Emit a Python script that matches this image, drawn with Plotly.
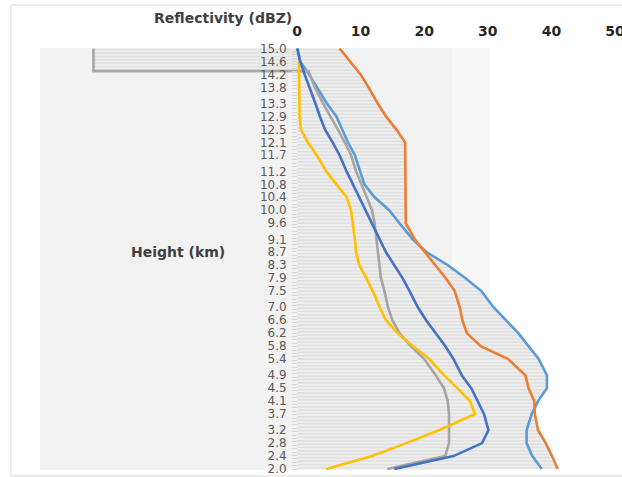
import numpy as np
import plotly.graph_objects as go

# Height categories (km), top to bottom
heights = [15.0, 14.6, 14.2, 13.8, 13.3, 12.9, 12.5, 12.1, 11.7, 11.2, 10.8, 10.4,
           10.0, 9.6, 9.1, 8.7, 8.3, 7.9, 7.5, 7.0, 6.6, 6.2, 5.8, 5.4, 4.9, 4.5,
           4.1, 3.7, 3.2, 2.8, 2.4, 2.0]

# Reflectivity (dBZ) per series
light_blue = [0.1, 0.5, 1.9, 3.1, 4.7, 6.2, 7.1, 8.0, 9.1, 10.0, 10.6, 12.2, 14.5, 16.1,
              18.2, 20.4, 23.75, 26.5, 29.0, 30.9, 32.9, 34.8, 36.4, 38.0, 39.3, 39.3,
              37.9, 36.9, 36.1, 36.1, 37.0, 38.5]
orange = [6.7, 8.4, 10.0, 11.25, 12.7, 14.0, 15.6, 17.0, 17.0, 17.0, 17.0, 17.0, 17.0,
          17.1, 18.5, 20.1, 21.8, 23.4, 24.8, 25.6, 26.0, 26.7, 28.9, 33.2, 35.9, 36.4,
          37.3, 37.4, 37.9, 39.1, 40.1, 41.0]
yellow = [None, 0.3, 0.3, 0.3, 0.3, 0.4, 0.6, 1.7, 3.1, 4.6, 6.2, 7.8, 8.5, 8.8, 9.1, 9.3,
          9.8, 10.9, 11.9, 13.0, 14.0, 15.8, 18.2, 20.8, 23.1, 25.2, 27.2, 28.0, 22.3,
          17.2, 11.8, 4.6]
dark_blue = [0.0, 0.5, 1.2, 2.0, 2.9, 3.6, 4.4, 5.6, 6.7, 7.8, 8.8, 9.8, 10.8, 11.7, 13.0,
             14.0, 15.3, 16.6, 17.7, 19.0, 20.3, 21.8, 23.3, 24.6, 25.9, 27.4, 28.4, 29.4,
             30.1, 29.1, 24.6, 15.3]
gray_h = [15.0, 14.3, 14.3] + heights[2:]
gray_v = [-32, -32, 1.8, 2.0, 2.8, 4.1, 5.3, 6.4, 7.5, 8.5, 9.3, 10.1, 10.9, 11.8, 12.2,
          12.5, 12.7, 12.9, 13.2, 13.75, 14.3, 15.0, 16.1, 17.9, 20.0, 21.8, 23.1, 23.7,
          23.9, 23.9, 23.9, 23.3, 14.2]

x_ticks = [0, 10, 20, 30, 40, 50]

# Drop-line envelope (from min(0, series) to max of series)
h_arr = np.array(heights)
gray_on_h = np.interp(h_arr[::-1], np.array(gray_h)[::-1], np.array(gray_v)[::-1])[::-1]
stack = np.vstack([light_blue, orange, dark_blue,
                   [np.nan if v is None else v for v in yellow], gray_on_h])
right = np.nanmax(stack, axis=0)
left_x = [min(0, v) for v in gray_v]
poly_x = left_x + list(right[::-1])
poly_y = gray_h + list(h_arr[::-1])

fig = go.Figure()
fig.add_trace(go.Scatter(
    x=poly_x, y=poly_y, mode="lines", line=dict(width=0), fill="toself",
    fillcolor="#ededed",
    fillpattern=dict(shape="-", fgcolor="#cdcdcd", bgcolor="#eeeeee", size=3.4, solidity=0.4),
    hoverinfo="skip"))

lw = 2.6
fig.add_trace(go.Scatter(x=light_blue, y=heights, mode="lines", line=dict(color="#5B9BD5", width=lw)))
fig.add_trace(go.Scatter(x=orange, y=heights, mode="lines", line=dict(color="#ED7D31", width=lw)))
fig.add_trace(go.Scatter(x=gray_v, y=gray_h, mode="lines", line=dict(color="#A5A5A5", width=lw)))
fig.add_trace(go.Scatter(x=yellow, y=heights, mode="lines", line=dict(color="#FFC000", width=lw)))
fig.add_trace(go.Scatter(x=dark_blue, y=heights, mode="lines", line=dict(color="#4472C4", width=lw)))

W, H = 622, 477
# plot area in window pixels: x 40..622, y 48..470
L, T = 40, 48
R = 0
B = H - 470
pw, ph = W - L - R, H - T - B
def px(xw):
    return (xw - L) / pw
def py(yw):
    return (H - B - yw) / ph

K = 6.36  # px per dBZ, zero at window x=297
x_range = [(40 - 297) / K, (622 - 297) / K]

fig.update_layout(
    width=W, height=H,
    margin=dict(l=L, r=R, t=T, b=B, autoexpand=False),
    paper_bgcolor="white", plot_bgcolor="white",
    showlegend=False,
    xaxis=dict(range=x_range, side="top", tickvals=x_ticks, automargin=False,
               ticklabeloverflow="allow",
               showgrid=False, zeroline=False, showline=False,
               ticks="outside", ticklen=5, tickcolor="rgba(0,0,0,0)",
               tickfont=dict(family="DejaVu Sans", size=14, color="#262626", weight="bold")),
    yaxis=dict(range=[1.969, 15.0155], anchor="free", position=px(297), automargin=False,
               tickvals=heights, ticktext=[f"{h:.1f}" for h in heights],
               showgrid=False, zeroline=False, showline=False,
               ticks="outside", ticklen=8, tickcolor="rgba(0,0,0,0)",
               tickfont=dict(family="DejaVu Sans", size=12, color="#595959"),
               minor=dict(tickmode="linear", tick0=2.0, dtick=0.105, ticks="outside",
                          ticklen=5, tickcolor="#d6d6d6", showgrid=False)),
    shapes=[
        dict(type="rect", xref="paper", yref="paper", x0=0, x1=px(452), y0=0, y1=1,
             fillcolor="#f2f2f2", line=dict(width=0), layer="below"),
        dict(type="rect", xref="paper", yref="paper", x0=px(452), x1=px(490), y0=0, y1=1,
             fillcolor="#f8f8f8", line=dict(width=0), layer="below"),
        dict(type="rect", xref="paper", yref="paper", x0=px(11), x1=px(640), y0=py(476), y1=py(5),
             fillcolor="rgba(0,0,0,0)", line=dict(color="#d9d9d9", width=1), layer="below"),
    ],
    annotations=[
        dict(text="Reflectivity (dBZ)", xref="paper", yref="paper", x=px(223), y=py(18),
             xanchor="center", yanchor="middle", showarrow=False,
             font=dict(family="DejaVu Sans", size=14, color="#404040", weight="bold")),
        dict(text="Height (km)", xref="paper", yref="paper", x=px(178), y=py(252),
             xanchor="center", yanchor="middle", showarrow=False,
             font=dict(family="DejaVu Sans", size=14, color="#404040", weight="bold")),
    ],
)

fig.write_html("out.html", config={"displayModeBar": False},
               post_script="document.body.style.margin='0px';")
